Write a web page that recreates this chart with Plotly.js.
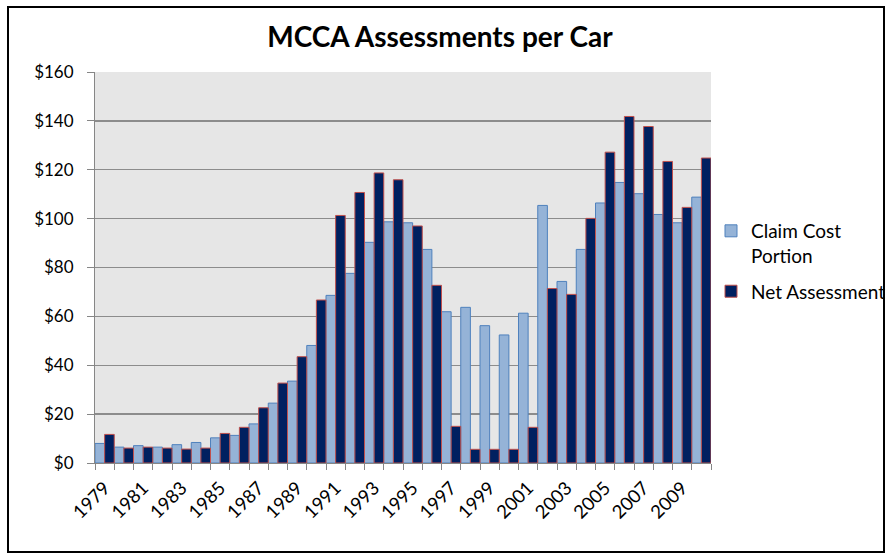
<!DOCTYPE html>
<html>
<head>
<meta charset="utf-8">
<script src="https://cdn.plot.ly/plotly-3.0.1.min.js"></script>
<style>html,body{margin:0;padding:0;background:#fff;}#chart{width:887px;height:554px;}</style>
</head>
<body>
<div id="chart"></div>
<script>
const years = [1979,1980,1981,1982,1983,1984,1985,1986,1987,1988,1989,1990,1991,1992,1993,1994,1995,1996,1997,1998,1999,2000,2001,2002,2003,2004,2005,2006,2007,2008,2009,2010];
const claimCost = [8.0,6.5,7.1,6.5,7.5,8.4,10.3,11.3,16.0,24.5,33.5,48.1,68.6,77.6,90.3,98.7,98.3,87.4,61.9,63.7,56.2,52.4,61.3,105.4,74.3,87.4,106.4,114.8,110.2,101.7,98.3,108.8];
const netAssessment = [11.7,6.1,6.5,6.1,5.7,6.1,12.1,14.6,22.6,32.7,43.5,66.7,101.3,110.7,118.7,115.9,97.0,72.7,15.0,5.6,5.6,5.6,14.6,71.4,69.0,100.1,127.2,141.8,137.7,123.4,104.6,124.8];
const labelYears = [1979,1981,1983,1985,1987,1989,1991,1993,1995,1997,1999,2001,2003,2005,2007,2009];
const seriesNames = ["Claim Cost<br>Portion", "Net Assessment"];
const titleText = "MCCA Assessments per Car";

const FONT = "Lato, 'Open Sans', sans-serif";

const traces = [
  {type:'bar', x: years, y: claimCost, name: seriesNames[0], legendgroup: 'a',
   marker:{color:'#95b3d7', line:{color:'#4f81bd', width:1}}},
  {type:'bar', x: years, y: netAssessment, name: seriesNames[1], legendgroup: 'b',
   marker:{color:'#002060', line:{color:'#c0504d', width:1}}}
];

const layout = {
  width: 887, height: 554,
  paper_bgcolor: '#ffffff',
  plot_bgcolor: '#e6e6e6',
  margin: {l:95, r:176, t:72, b:91, autoexpand:false},
  barmode: 'group', bargap: 0, bargroupgap: 0,
  title: {text: titleText, font:{family: FONT, size: 28, color:'#000', weight: 'bold'},
          x: 0.496, xanchor:'center', xref:'container', y: 1 - 37/554, yanchor:'middle', yref:'container'},
  xaxis: {
    range: [1978.5, 2010.5], tickmode:'array', tickvals: labelYears, ticktext: labelYears.map(String),
    tickangle: -45, ticks: '', showgrid: false, zeroline: false,
    showline: true, linecolor: '#868686', linewidth: 1, ticklabelstandoff: 6,
    tickfont: {family: FONT, size: 18.5, color:'#000'},
    minor: {tick0: 1978.5, dtick: 1, ticks: 'outside', ticklen: 6, tickcolor: '#868686', showgrid:false}
  },
  yaxis: {
    range: [0, 160], dtick: 20, tickprefix: '$', ticks: 'outside', ticklen: 7, tickcolor: '#868686',
    showline: true, linecolor: '#868686', linewidth: 1, ticklabelstandoff: 10,
    showgrid: true, gridcolor: '#8c8c8c', gridwidth: 1.3, zeroline: false,
    tickfont: {family: FONT, size: 17, color:'#000'}
  },
  legend: {x: 1.0, xanchor:'left', y: 0.642, yanchor:'top', bgcolor:'rgba(0,0,0,0)', valign: 'top',
           font:{family: FONT, size: 19, color:'#000'}, tracegroupgap: 8, itemwidth: 30},
  shapes: [
    {type:'rect', xref:'paper', yref:'paper', x0: (8-95)/616, x1: (884-95)/616, y0: (463-552)/391, y1: (463-7)/391,
     line:{color:'#000', width:2}, fillcolor:'rgba(0,0,0,0)', layer:'below'}
  ],
  showlegend: true
};

Plotly.newPlot('chart', traces, layout, {displayModeBar:false, staticPlot:true});
</script>
</body>
</html>
